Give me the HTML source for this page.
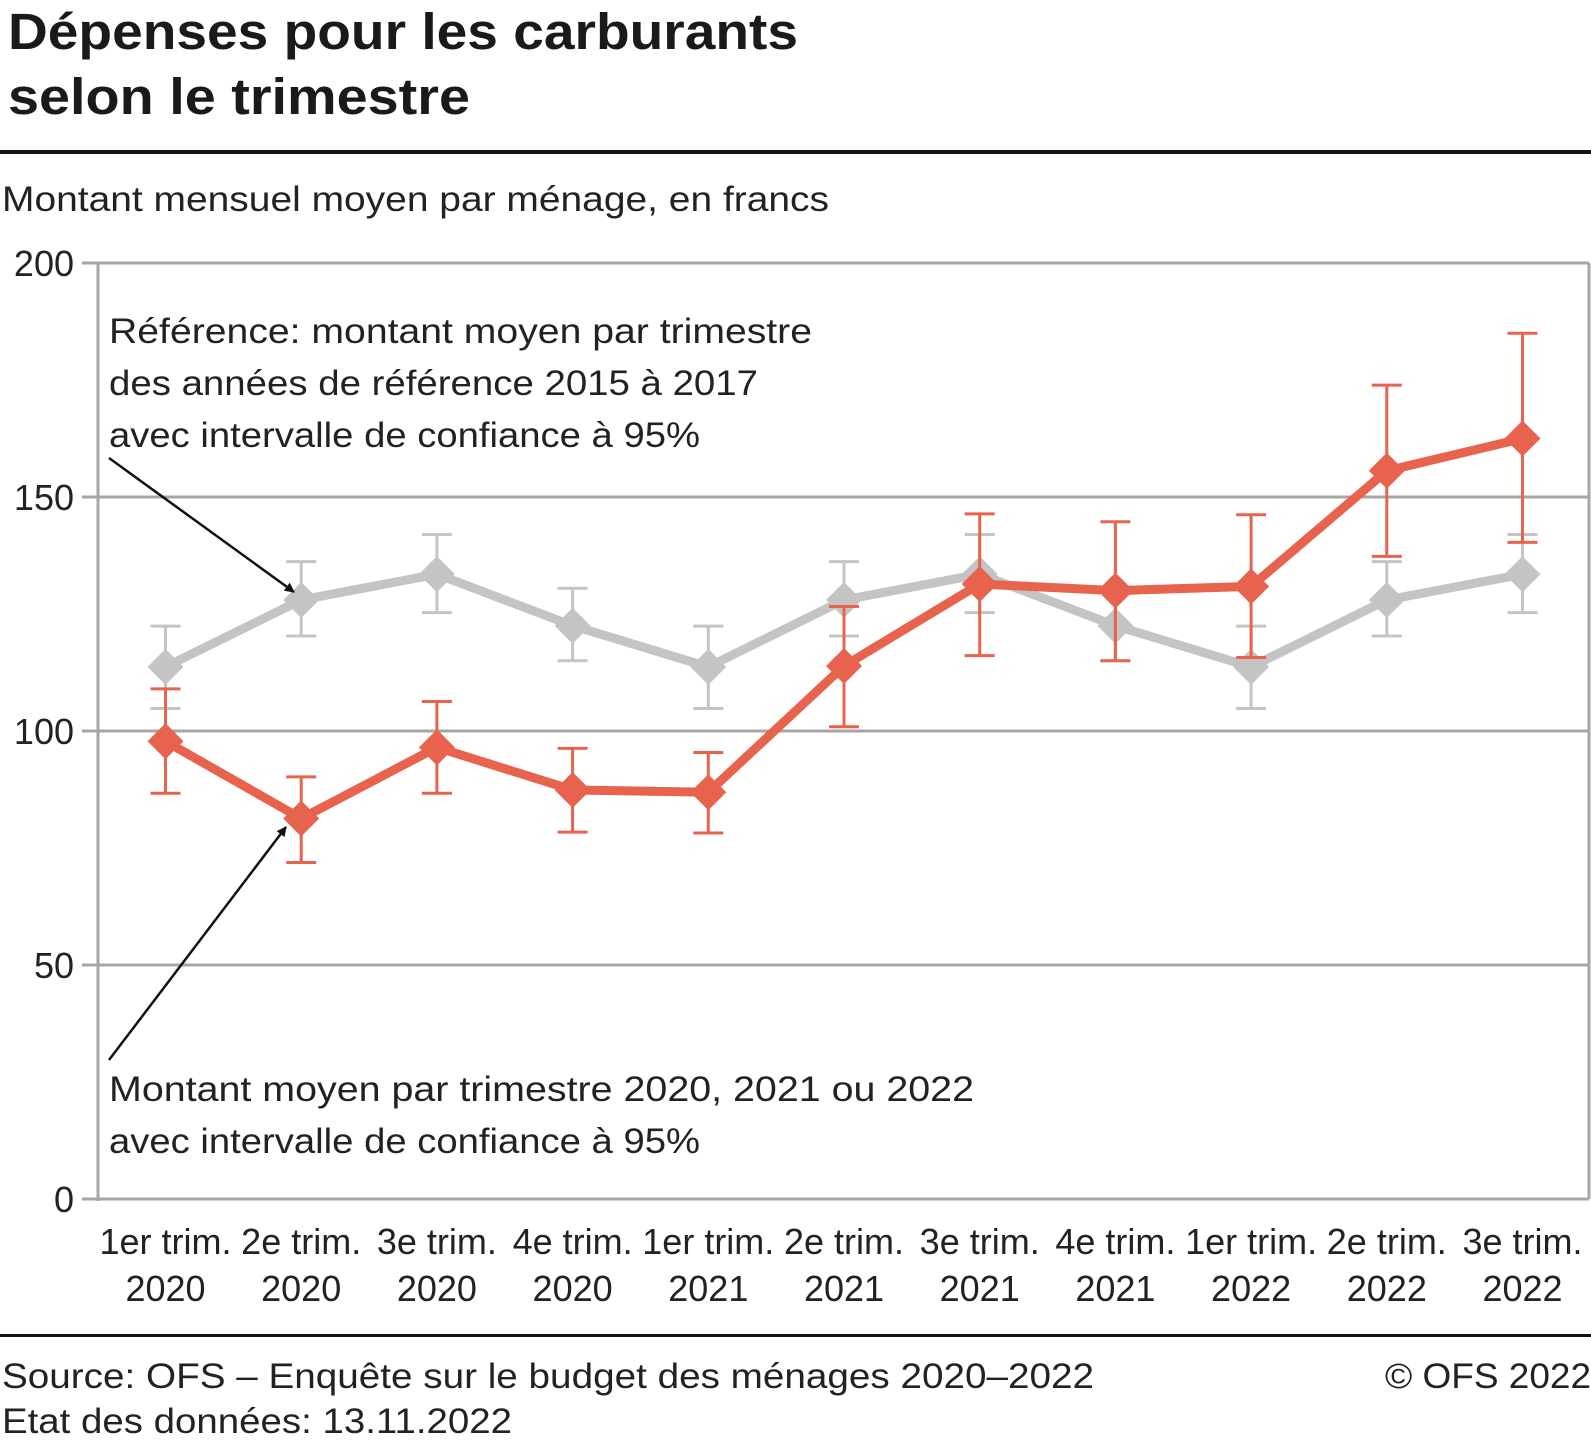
<!DOCTYPE html>
<html><head><meta charset="utf-8"><style>
body{margin:0;background:#fff}
svg{display:block;font-family:"Liberation Sans",sans-serif}
</style></head><body>
<svg width="1591" height="1447" viewBox="0 0 1591 1447">
<defs><marker id="ah" markerWidth="10" markerHeight="10" refX="9" refY="5" orient="auto" markerUnits="userSpaceOnUse"><path d="M0,0 L10,5 L0,10 z" fill="#111"/></marker></defs>
<text x="8" y="49" font-size="51" font-weight="bold" fill="#1a1a1a" textLength="790" lengthAdjust="spacingAndGlyphs">Dépenses pour les carburants</text>
<text x="8" y="114" font-size="51" font-weight="bold" fill="#1a1a1a" textLength="462" lengthAdjust="spacingAndGlyphs">selon le trimestre</text>
<rect x="0" y="150" width="1591" height="4" fill="#111"/>
<text x="2" y="211" font-size="35" fill="#222" textLength="827" lengthAdjust="spacingAndGlyphs">Montant mensuel moyen par ménage, en francs</text>
<g id="grid"></g>
<g id="marks"></g>
<text x="109" y="343" font-size="35" fill="#222" textLength="703" lengthAdjust="spacingAndGlyphs">Référence: montant moyen par trimestre</text>
<text x="109" y="395" font-size="35" fill="#222" textLength="649" lengthAdjust="spacingAndGlyphs">des années de référence 2015 à 2017</text>
<text x="109" y="447" font-size="35" fill="#222" textLength="591" lengthAdjust="spacingAndGlyphs">avec intervalle de confiance à 95%</text>
<line x1="109" y1="458" x2="294" y2="592" stroke="#111" stroke-width="2.5" marker-end="url(#ah)"/>
<text x="109" y="1101" font-size="35" fill="#222" textLength="865" lengthAdjust="spacingAndGlyphs">Montant moyen par trimestre 2020, 2021 ou 2022</text>
<text x="109" y="1153" font-size="35" fill="#222" textLength="591" lengthAdjust="spacingAndGlyphs">avec intervalle de confiance à 95%</text>
<line x1="109" y1="1060" x2="286" y2="827" stroke="#111" stroke-width="2.5" marker-end="url(#ah)"/>
<rect x="0" y="1334" width="1591" height="3" fill="#111"/>
<text x="2" y="1388" font-size="35" fill="#222" textLength="1092" lengthAdjust="spacingAndGlyphs">Source: OFS – Enquête sur le budget des ménages 2020–2022</text>
<text x="2" y="1433" font-size="35" fill="#222" textLength="510" lengthAdjust="spacingAndGlyphs">Etat des données: 13.11.2022</text>
<text x="1385" y="1388" font-size="35" fill="#222" textLength="206" lengthAdjust="spacingAndGlyphs">© OFS 2022</text>
</svg>
<script>
const cats1=["1er trim.","2e trim.","3e trim.","4e trim.","1er trim.","2e trim.","3e trim.","4e trim.","1er trim.","2e trim.","3e trim."];
const cats2=["2020","2020","2020","2020","2021","2021","2021","2021","2022","2022","2022"];
const refVal=[113.7,128,133.5,122.5,113.7,128,133.5,122.5,113.7,128,133.5];
const refHi=[122.4,136.2,142,130.5,122.4,136.2,142,130.5,122.4,136.2,142];
const refLo=[104.8,120.3,125.3,115,104.8,120.3,125.3,115,104.8,120.3,125.3];
const actVal=[97.8,81.3,96.5,87.4,86.9,113.9,131.4,130,130.9,155.6,162.5];
const actHi=[109,90.2,106.3,96.3,95.4,126.6,146.4,144.7,146.2,173.9,185];
const actLo=[86.7,71.9,86.7,78.4,78.2,100.9,116.1,115,115.7,137.3,140.3];
const yTicks=[0,50,100,150,200];
const NS="http://www.w3.org/2000/svg";
const L=98,R=1589,T=263,B=1199;
const y=v=>B-(v/200)*(B-T);
const x=i=>165.5+i*135.7;
function mk(tag,attrs,parent){const e=document.createElementNS(NS,tag);for(const k in attrs)e.setAttribute(k,attrs[k]);parent.appendChild(e);return e;}
const g=document.getElementById('grid'),m=document.getElementById('marks');
yTicks.forEach(t=>{
 const ln=mk('line',{x1:82,x2:R,y1:y(t),y2:y(t),stroke:'#a6a6a6','stroke-width':3},g);
 
 
 const tx=mk('text',{x:74,y:y(t)+13,'font-size':36,fill:'#222','text-anchor':'end'},g);tx.textContent=t;
 
 
});
const ax=mk('line',{x1:L,x2:L,y1:T,y2:B+2,stroke:'#a6a6a6','stroke-width':3},g);


const rb=mk('line',{x1:R,x2:R,y1:T,y2:B,stroke:'#a6a6a6','stroke-width':3},g);


cats1.forEach((c,i)=>{
 const t1=mk('text',{x:x(i),y:1254,'font-size':36,fill:'#222','text-anchor':'middle'},g);t1.textContent=c;
 
 
 const t2=mk('text',{x:x(i),y:1301,'font-size':36,fill:'#222','text-anchor':'middle'},g);t2.textContent=cats2[i];
 
 
});
function series(vals,hi,lo,col,name){
 const grp=mk('g',{},m);
 
 
 vals.forEach((v,i)=>{
  const e=mk('path',{d:`M${x(i)},${y(lo[i])}V${y(hi[i])}M${x(i)-15},${y(lo[i])}H${x(i)+15}M${x(i)-15},${y(hi[i])}H${x(i)+15}`,stroke:col,'stroke-width':3,fill:'none'},grp);
  
  
 });
 const ln=mk('polyline',{points:vals.map((v,i)=>x(i)+','+y(v)).join(' '),fill:'none',stroke:col,'stroke-width':9,'stroke-linejoin':'round'},grp);
 
 
 vals.forEach((v,i)=>{
  const d=mk('path',{d:`M${x(i)},${y(v)-18}L${x(i)+18},${y(v)}L${x(i)},${y(v)+18}L${x(i)-18},${y(v)}Z`,fill:col},grp);
  
  
 });
}
series(refVal,refHi,refLo,'#c4c4c4','reference');
series(actVal,actHi,actLo,'#e8634d','actual');
</script>
</body></html>
